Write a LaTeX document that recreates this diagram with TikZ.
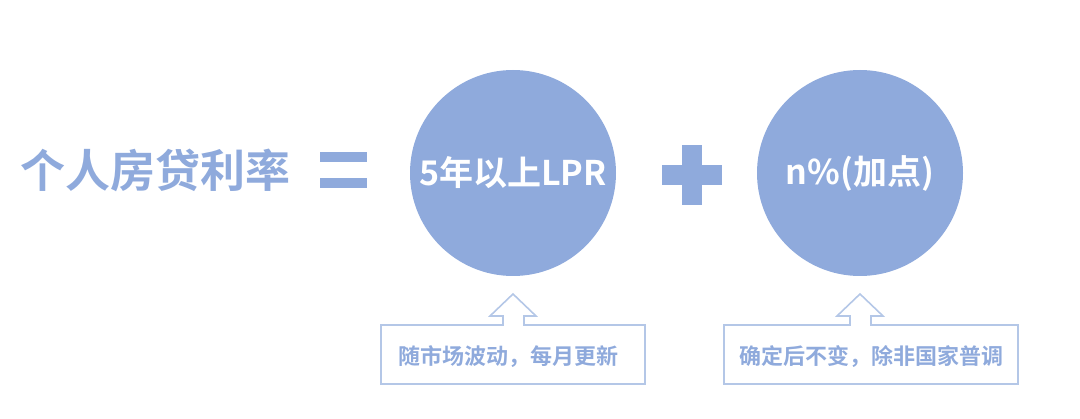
\documentclass[tikz,border=0pt]{standalone}
\usepackage{fontspec}
\newfontfamily\cjk{Noto Sans CJK SC Bold}
\definecolor{blu}{HTML}{8FAADC}
\definecolor{lin}{HTML}{B4C7E7}
\begin{document}
\begin{tikzpicture}[x=1pt,y=-1pt,
  circ/.style={circle,fill=blu,minimum size=206pt,inner sep=0pt,text=white,font=\cjk\fontsize{34}{38}\selectfont},
  call/.style={draw=lin,line width=1.6pt,line join=miter},
  ctext/.style={text=blu,font=\cjk\fontsize{22}{26}\selectfont}]
\useasboundingbox (0,0) rectangle (1080,419);
\node[text=blu,font=\cjk\fontsize{45}{50}\selectfont,anchor=west,inner sep=0pt] (t) at (20,170) {个人房贷利率};
\fill[blu] (320,152) rectangle (367,162);
\fill[blu] (320,178) rectangle (367,188);
\node[circ] (c1) at (513,173) {5年以上LPR};
\fill[blu] (662,165) rectangle (722,185);
\fill[blu] (682,145) rectangle (702,205);
\node[circ] (c2) at (860,173) {n\%(加点)};
\draw[call] (381,325) -- (503,325) -- (503,316) -- (490,316) -- (513,294) -- (536,316) -- (524,316) -- (524,325) -- (645,325) -- (645,384) -- (381,384) -- cycle;
\node[ctext] (l1) at (508,357) {随市场波动，每月更新};
\draw[call] (724,325) -- (850,325) -- (850,316) -- (837,316) -- (860,294) -- (883,316) -- (871,316) -- (871,325) -- (1018,325) -- (1018,384) -- (724,384) -- cycle;
\node[ctext] (l2) at (871,357) {确定后不变，除非国家普调};
\end{tikzpicture}
\end{document}
